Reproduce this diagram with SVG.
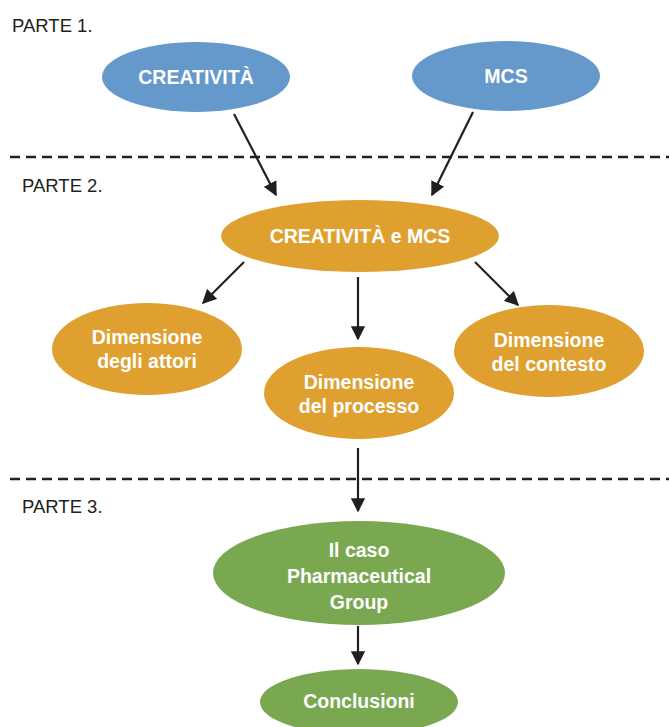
<svg xmlns="http://www.w3.org/2000/svg" width="669" height="727" viewBox="0 0 669 727">
<style>
.lbl{font-family:"Liberation Sans",Arial,sans-serif;font-size:18.5px;fill:#231f20}
.t{font-family:"Liberation Sans",Arial,sans-serif;font-size:19.5px;font-weight:bold;fill:#ffffff;text-anchor:middle}
.blue{fill:#6599cb}
.orange{fill:#dfa030}
.green{fill:#79a851}
.sep{stroke:#231f20;stroke-width:2.5;stroke-dasharray:10 6;fill:none}
.arr{stroke:#231f20;stroke-width:2.2;fill:none;marker-end:url(#ah)}
</style>
<defs>
<marker id="ah" viewBox="0 0 10 10" refX="9" refY="5" markerWidth="6.5" markerHeight="6.5" orient="auto" markerUnits="strokeWidth">
<path d="M0,0 L10,5 L0,10 z" fill="#231f20"/>
</marker>
</defs>
<rect width="669" height="727" fill="#ffffff"/>
<g id="labels">
<text class="lbl" x="12" y="32">PARTE 1.</text>
<text class="lbl" x="22" y="192">PARTE 2.</text>
<text class="lbl" x="22" y="513">PARTE 3.</text>
<line class="sep" x1="10" y1="157" x2="669" y2="157"/>
<line class="sep" x1="10" y1="479" x2="669" y2="479"/>
</g>
<g id="connectors">
<line class="arr" x1="234" y1="114" x2="276" y2="195"/>
<line class="arr" x1="473" y1="112" x2="432" y2="195"/>
<line class="arr" x1="244" y1="262" x2="203" y2="303"/>
<line class="arr" x1="358" y1="277" x2="358" y2="339"/>
<line class="arr" x1="475" y1="262" x2="518" y2="305"/>
<line class="arr" x1="358" y1="448" x2="358" y2="511"/>
<line class="arr" x1="358" y1="626" x2="358" y2="664"/>
</g>
<g id="creativita">
<ellipse class="blue" cx="196" cy="77" rx="94" ry="35"/>
<text class="t" x="196" y="84">CREATIVITÀ</text>
</g>
<g id="mcs">
<ellipse class="blue" cx="506" cy="76" rx="94" ry="35"/>
<text class="t" x="506" y="83">MCS</text>
</g>
<g id="creativita-mcs">
<ellipse class="orange" cx="360" cy="236" rx="139" ry="36"/>
<text class="t" x="360" y="243">CREATIVITÀ e MCS</text>
</g>
<g id="attori">
<ellipse class="orange" cx="147" cy="349" rx="95" ry="46"/>
<text class="t" x="147" y="344">Dimensione</text>
<text class="t" x="147" y="368">degli attori</text>
</g>
<g id="processo">
<ellipse class="orange" cx="359" cy="393" rx="95" ry="46"/>
<text class="t" x="359" y="389">Dimensione</text>
<text class="t" x="359" y="413">del processo</text>
</g>
<g id="contesto">
<ellipse class="orange" cx="549" cy="351" rx="95" ry="46"/>
<text class="t" x="549" y="347">Dimensione</text>
<text class="t" x="549" y="371">del contesto</text>
</g>
<g id="caso">
<ellipse class="green" cx="359" cy="573" rx="146" ry="52"/>
<text class="t" x="359" y="557">Il caso</text>
<text class="t" x="359" y="583">Pharmaceutical</text>
<text class="t" x="359" y="609">Group</text>
</g>
<g id="conclusioni">
<ellipse class="green" cx="359" cy="702" rx="99" ry="33"/>
<text class="t" x="359" y="708">Conclusioni</text>
</g>
</svg>
